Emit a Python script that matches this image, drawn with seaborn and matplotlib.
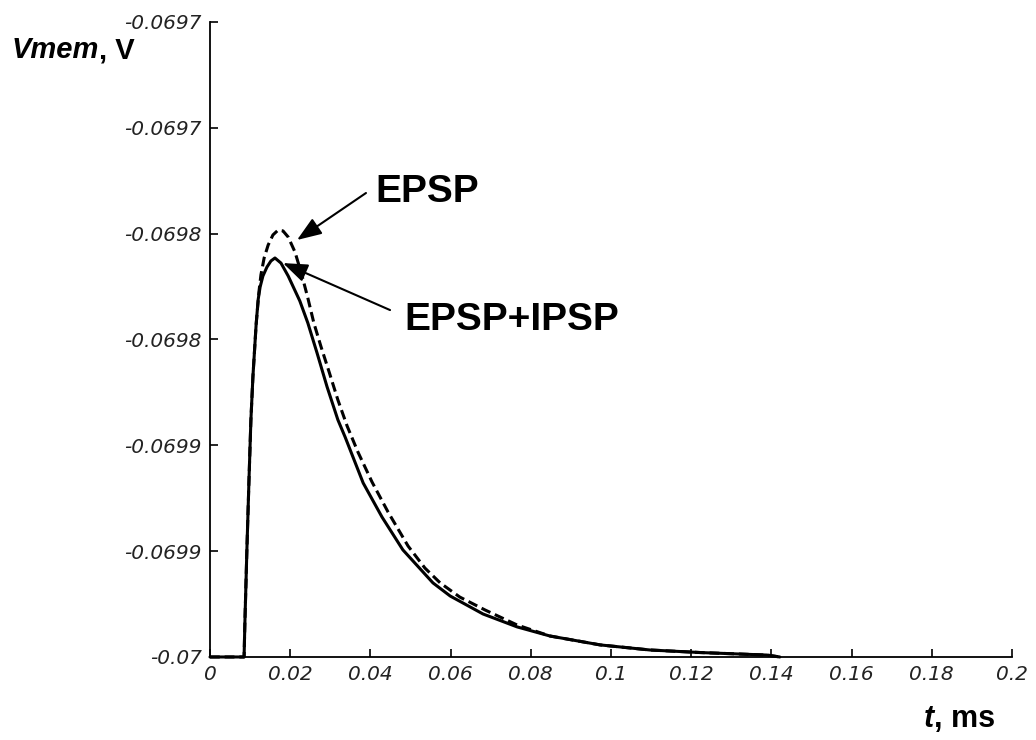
import numpy as np
import pandas as pd
import matplotlib
matplotlib.use("Agg")
import matplotlib.pyplot as plt
import seaborn as sns

# Membrane potential traces (time in ms scale units, Vmem in volts)
t_epsp_ipsp = [0.0000, 0.0085, 0.0087, 0.0092, 0.0097, 0.0102, 0.0107, 0.0115,
               0.0120, 0.0125, 0.0132, 0.0142, 0.0152, 0.0162, 0.0177, 0.0195,
               0.0224, 0.0244, 0.0267, 0.0292, 0.0319, 0.0337, 0.0382, 0.0429,
               0.0481, 0.0556, 0.0599, 0.0681, 0.0766, 0.0848, 0.0973, 0.1097,
               0.1222, 0.1389, 0.1421]
v_epsp_ipsp = [-0.0700000, -0.0700000, -0.0699839, -0.0699494, -0.0699178,
               -0.0698880, -0.0698677, -0.0698431, -0.0698313, -0.0698252,
               -0.0698200, -0.0698158, -0.0698129, -0.0698115, -0.0698139,
               -0.0698200, -0.0698318, -0.0698422, -0.0698564, -0.0698724,
               -0.0698880, -0.0698961, -0.0699178, -0.0699339, -0.0699494,
               -0.0699650, -0.0699712, -0.0699797, -0.0699858, -0.0699901,
               -0.0699943, -0.0699967, -0.0699979, -0.0699991, -0.0700000]

t_epsp = [0.0000, 0.0085, 0.0087, 0.0092, 0.0097, 0.0102, 0.0107, 0.0115,
          0.0122, 0.0127, 0.0135, 0.0145, 0.0157, 0.0170, 0.0182, 0.0195,
          0.0212, 0.0229, 0.0244, 0.0259, 0.0277, 0.0297, 0.0319, 0.0342,
          0.0369, 0.0404, 0.0444, 0.0494, 0.0536, 0.0574, 0.0623, 0.0686,
          0.0766, 0.0848, 0.0973, 0.1097, 0.1222, 0.1389, 0.1421]
v_epsp = [-0.0700000, -0.0700000, -0.0699839, -0.0699494, -0.0699178,
          -0.0698880, -0.0698677, -0.0698431, -0.0698276, -0.0698195,
          -0.0698115, -0.0698054, -0.0698006, -0.0697983, -0.0697987,
          -0.0698016, -0.0698087, -0.0698195, -0.0698304, -0.0698422,
          -0.0698535, -0.0698653, -0.0698786, -0.0698909, -0.0699032,
          -0.0699173, -0.0699315, -0.0699476, -0.0699580, -0.0699650,
          -0.0699717, -0.0699778, -0.0699849, -0.0699901, -0.0699943,
          -0.0699967, -0.0699979, -0.0699991, -0.0700000]

x_ticks = [0, 0.02, 0.04, 0.06, 0.08, 0.1, 0.12, 0.14, 0.16, 0.18, 0.2]
x_tick_labels = ["0", "0.02", "0.04", "0.06", "0.08", "0.1", "0.12",
                 "0.14", "0.16", "0.18", "0.2"]
y_ticks = [-0.07, -0.06995, -0.0699, -0.06985, -0.0698, -0.06975, -0.0697]
y_tick_labels = ["-0.07", "-0.0699", "-0.0699", "-0.0698", "-0.0698",
                 "-0.0697", "-0.0697"]

df = pd.concat([
    pd.DataFrame({"t": t_epsp, "V": v_epsp, "trace": "EPSP"}),
    pd.DataFrame({"t": t_epsp_ipsp, "V": v_epsp_ipsp, "trace": "EPSP+IPSP"}),
], ignore_index=True)

sns.set_theme(style="white")
plt.rcParams["font.family"] = ["Liberation Sans", "DejaVu Sans"]
plt.rcParams["text.color"] = "black"

fig = plt.figure(figsize=(10.36, 7.4), dpi=100)
ax = fig.add_axes([0.2027, 0.1122, 0.7741, 0.8581])

sns.lineplot(data=df, x="t", y="V", style="trace",
             dashes={"EPSP": (3.2, 1.6), "EPSP+IPSP": ""},
             color="black", linewidth=2.2, estimator=None, sort=False,
             legend=False, ax=ax)
for ln in ax.lines:
    ln.set_clip_on(False)
    ln.set_solid_joinstyle("round")

ax.set_xlim(0, 0.2)
ax.set_ylim(-0.07, -0.0697)
ax.set_xticks(x_ticks)
ax.set_xticklabels(x_tick_labels)
ax.set_yticks(y_ticks)
ax.set_yticklabels(y_tick_labels)
ax.set_xlabel("")
ax.set_ylabel("")

for side in ("top", "right"):
    ax.spines[side].set_visible(False)
for side in ("left", "bottom"):
    ax.spines[side].set_color("black")
    ax.spines[side].set_linewidth(1.3)

ax.tick_params(bottom=True, left=True, direction="in", length=6, width=1.2,
               colors="black", labelcolor="#222222", pad=6)
for lab in ax.get_xticklabels() + ax.get_yticklabels():
    lab.set_family(["DejaVu Sans"])
    lab.set_style("italic")
    lab.set_fontsize(14.5)

# Axis titles: italic bold symbol followed by bold unit
vlab = fig.text(0.0116, 0.9216, "Vmem", fontsize=21, fontweight="bold",
                fontstyle="italic", ha="left", va="baseline")
ax.annotate(", V", xy=(1, 0), xycoords=vlab, fontsize=21,
            fontweight="bold", ha="left", va="bottom", annotation_clip=False)
tlab = fig.text(0.892, 0.0176, "t", fontsize=22, fontweight="bold",
                fontstyle="italic", ha="left", va="baseline")
ax.annotate(", ms", xy=(1, 0), xycoords=tlab, fontsize=22,
            fontweight="bold", ha="left", va="bottom", annotation_clip=False)

# Trace annotations
arrow = dict(arrowstyle="-|>,head_length=0.75,head_width=0.28",
             color="black", lw=1.5, shrinkA=0, shrinkB=0, mutation_scale=20)
ax.annotate("", xy=(0.0217, -0.069803), xytext=(0.0389, -0.0697808),
            arrowprops=arrow, annotation_clip=False)
ax.text(0.0412, -0.069785, "EPSP", fontsize=28, fontweight="bold",
        ha="left", va="baseline")
ax.annotate("", xy=(0.0182, -0.0698139), xytext=(0.0449, -0.0698361),
            arrowprops=arrow, annotation_clip=False)
ax.text(0.0484, -0.0698455, "EPSP+IPSP", fontsize=28, fontweight="bold",
        ha="left", va="baseline")

fig.savefig("out.png", dpi=100)
